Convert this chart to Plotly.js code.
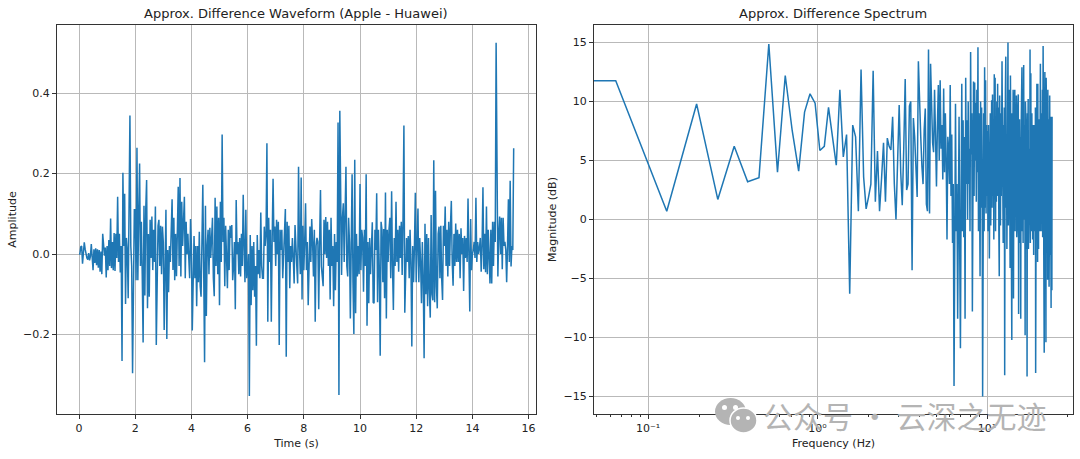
<!DOCTYPE html>
<html><head><meta charset="utf-8">
<script src="https://cdn.plot.ly/plotly-3.0.0.min.js"></script>
<style>html,body{margin:0;padding:0;background:#fff}#c{width:1080px;height:459px}</style>
</head><body><div id="c"></div>
<script>
const sampleStepS = 0.03125;
const amplitude = [
0,0,0.018,0.02,-0.024,0.005,0.029,0.012,-0.004,-0.01,-0.014,0.002,-0.016,-0.006,0.025,-0.012,
-0.04,0.012,-0.022,0.014,-0.028,0.012,-0.034,0.01,-0.044,0.006,-0.05,0.05,0.02,-0.004,0.016,-0.058,
0.02,-0.04,0.035,-0.03,0.088,-0.035,0.03,-0.04,0.052,-0.042,0.05,-0.01,0.142,-0.02,0.05,-0.046,
0.02,-0.266,0.202,0.02,0.15,-0.124,0.04,0.01,-0.11,0.08,0.344,0.02,-0.03,-0.296,0.03,0.11,
0.11,-0.065,0.264,-0.065,0.1,0.225,-0.03,0.08,-0.05,-0.22,0.12,-0.103,0.11,0.184,-0.135,0.05,
-0.106,0.085,-0.01,0.093,-0.04,0.06,-0.02,0.118,-0.226,0.03,0.07,0.085,-0.03,0.07,-0.05,0.068,
0.03,-0.189,0.04,0.11,-0.211,0.01,-0.095,0.02,-0.02,0.06,0.136,-0.04,0.09,-0.065,0.05,-0.055,
0.06,0.167,-0.03,0.189,-0.056,0.13,0.02,0.09,0.142,-0.06,0.08,0.0,0.05,-0.01,-0.06,0.087,
0.02,-0.19,-0.02,0.045,-0.06,0.02,-0.13,0.02,-0.07,0.055,-0.08,-0.106,0.03,0.172,-0.04,-0.269,
0.12,-0.154,0.02,0.06,-0.05,0.065,-0.01,0.05,0.09,-0.06,-0.105,0.14,-0.03,0.118,-0.05,0.09,
-0.127,0.13,-0.02,0.297,0.03,0.09,-0.08,0.07,-0.03,-0.085,0.06,-0.04,0.07,0.04,0.072,-0.065,
-0.03,0.03,-0.137,0.134,0.0,0.03,-0.05,0.04,-0.056,0.05,-0.03,0.147,0.02,-0.07,0.11,-0.06,
-0.04,0.0,-0.353,0.047,-0.127,0.02,-0.09,0.03,-0.106,-0.03,-0.228,0.047,-0.05,0.01,-0.06,0.103,
-0.03,-0.06,-0.06,0.068,0.02,0.05,0.275,-0.168,0.09,-0.02,0.06,-0.168,0.04,0.187,0.03,0.068,
-0.03,0.085,0.0,0.08,-0.226,0.06,0.01,0.06,-0.06,0.02,0.04,0.112,-0.255,0.08,-0.02,0.07,
-0.085,0.02,-0.02,0.04,-0.01,-0.073,0.072,0.0,-0.03,-0.073,0.217,0.02,-0.05,0.19,-0.113,0.07,
-0.04,0.03,0.126,-0.04,0.03,-0.127,0.04,0.068,-0.02,0.087,0.03,-0.056,0.06,-0.168,0.02,0.04,
0.03,-0.137,0.03,0.159,-0.03,-0.05,-0.08,0.085,0.0,0.092,-0.01,0.08,-0.03,0.06,-0.113,0.09,
-0.03,0.02,-0.13,0.05,-0.09,0.03,-0.02,0.327,-0.35,0.356,0.05,-0.052,0.09,0.126,-0.02,0.11,
0.217,-0.03,-0.056,0.09,0.03,-0.16,0.09,0.198,-0.07,-0.199,0.234,-0.147,0.05,-0.056,0.02,-0.05,
0.174,-0.04,0.06,0.04,-0.094,0.06,-0.03,0.198,-0.178,0.03,-0.122,0.04,-0.05,0.03,0.079,-0.12,
-0.122,0.06,0.01,0.151,-0.12,0.06,-0.04,-0.253,0.08,0.06,-0.07,0.062,-0.11,0.153,-0.16,0.06,
-0.02,0.06,0.09,-0.06,0.156,-0.03,-0.139,0.04,-0.03,0.13,-0.02,0.06,-0.044,0.07,-0.01,0.08,
-0.052,0.09,0.319,-0.146,-0.03,0.04,-0.02,0.045,-0.06,0.06,-0.02,-0.23,0.02,-0.07,0.02,0.152,
-0.07,0.02,0.113,-0.07,0.04,-0.02,-0.122,0.03,-0.06,-0.259,0.075,-0.1,0.05,-0.13,0.04,-0.09,
-0.158,0.097,-0.1,-0.115,0.233,-0.12,0.157,-0.08,-0.135,0.05,0.068,-0.06,0.07,-0.06,-0.114,0.07,
0.02,0.118,-0.03,0.06,-0.056,0.08,-0.03,0.07,0.132,-0.02,-0.079,0.05,-0.03,0.076,-0.02,0.06,
-0.02,0.05,-0.06,0.064,0.0,0.04,-0.092,0.045,-0.01,0.04,-0.02,0.138,-0.02,-0.143,0.087,-0.04,
0.0,0.01,0.03,-0.01,0.14,-0.02,0.03,0.0,0.015,0.04,-0.044,0.02,0.166,-0.038,0.05,-0.045,
0.118,-0.05,0.06,-0.02,-0.073,0.06,-0.073,0.08,-0.03,0.08,0.03,0.525,0.03,-0.056,0.05,0.093,
0.0,0.09,-0.038,0.09,0.02,0.03,0.01,-0.07,0.02,0.136,-0.02,0.182,-0.031,0.02,0.01,0.263
];
const timeS = amplitude.map((_, i) => i * sampleStepS);

const binHz = 0.0645;
const zeroBinPlotHz = 0.03;
const magnitudeDb = [
11.75,11.75,0.7,9.79,1.7,6.2,3.2,3.55,14.87,4.0,
12.2,7.5,4.1,9.1,10.65,9.85,5.85,6.2,9.5,7.0,
4.6,11.0,5.3,7.2,-6.3,8.0,7.0,0.7,12.7,3.6,
0.9,1.9,3.0,12.6,1.5,5.8,0.7,3.5,6.5,1.5,
6.9,6.2,5.9,8.7,3.0,0,4.5,9.7,4,1.2,
6,11.9,2.5,3.0,9.6,10,-4.3,8.6,7,3.5,
1.9,13.4,9,7,4.5,3,7.6,9.4,1.3,0.7,
14.4,0.5,13.2,8,6.5,5.7,11,7,2.8,8,
11.4,5,11.8,6,8,3.4,11.1,4,9,5,
-1.7,7,6,3,11.4,2,7.2,-2,3,-14.1,
7.2,9.8,-1,3,-8.4,2,8.7,-3,-10.9,2,
11.5,-1,8.4,-1.5,7,-8.4,12,3,8.4,0,
10,3,6,-1,14.2,5.5,9,-7.8,5,11.7,
2,11.6,5,9.9,1.5,11,4,14.6,-1,9,
3,-4.8,10,1,9.5,3,-15,2,9,-1,
12.9,1,11.8,0.5,8,2,7.5,-1,8,3,
-3.3,6,9,-0.5,5,10.1,1,10.6,2,8,
-1.7,12.3,3,12,-1,8,1.5,10,2,11.5,
3,9.5,-1,-4.8,10.5,4,-0.5,9,2,7,
13.4,1,7,-2,8,3.5,9.5,-13.2,4,11,
13.8,1,7,-2.5,9,2,15,-0.5,9,3,
11,4,-4.1,12.2,1,8,2,-10.2,9,3,
6,11,-6.7,5,9.5,1,11,-1,8,2,
6,10.5,-1.5,7,0,9,3,10.6,-8,6,
1,8.5,-2,7,3,-8.4,6,9,1,12.9,
-1,9,4,-2,10,13.1,2,8,0,7,
-9.8,10,3,8,-2.5,7,1,-13.3,9,2,
6,10.2,-2.5,8,1,6,12,2,14.4,-2,
8,12.4,1,7,-1,9,3,6.5,-1.7,8,
2,5,-3,8,1,7,-1,6,2,9.5,
-13,8,2,6,-1.5,11.5,1,7,-3.6,11.5,
0,6,-2.5,7,3,8.5,0,6,-1,9,
13.2,2,7,-1,5,9,0,6,2,11,
-1.5,8,14.7,1,7,-3,5,-11.3,9,2,
12.5,-2,6,0,8,-10.4,12,2,-2,7,
10.5,-1,5,-5.1,11,2,7,-3,8.5,-1,
-5.7,8,1,10.5,-2,7,-3,8.7,-1,6,
-7.5,8.7,-4,8.5,-6,8.7
];
const freqHz = magnitudeDb.map((_, k) => k === 0 ? zeroBinPlotHz : k * binHz);

const waveTicks = [0,2,4,6,8,10,12,14,16];
const ampTicks = [-0.2,0,0.2,0.4];
const dbTicks = [-15,-10,-5,0,5,10,15];
const freqTicks = [0.1,1,10];
const freqTickText = ['10⁻¹','10⁰','10¹'];
const freqMinor = [0.05,0.06,0.07,0.08,0.09,0.2,0.3,0.4,0.5,0.6,0.7,0.8,0.9,2,3,4,5,6,7,8,9,20,30];

const W = 1080, H = 459, px = v => v / W, py = v => 1 - v / H;
const FONT = 'DejaVu Sans, sans-serif';
const axisBase = {
  showline: true, mirror: true, linecolor: '#333', linewidth: 1,
  showgrid: true, gridcolor: '#b9b9b9', gridwidth: 1, zeroline: false,
  ticks: 'outside', ticklen: 4, tickwidth: 1, tickcolor: '#333',
  tickfont: {family: FONT, size: 11, color: '#222'}
};
const blue = '#1f77b4';
const wmark = '#b4b4b4';

const circle = (x0, y0, x1, y1, fill, line) => ({
  type: 'circle', xref: 'paper', yref: 'paper', layer: 'above',
  x0: px(x0), x1: px(x1), y0: py(y1), y1: py(y0),
  fillcolor: fill, line: line ? {color: line, width: 1.5} : {width: 0}
});

Plotly.newPlot('c', [
  {type: 'scatter', mode: 'lines', x: timeS, y: amplitude, xaxis: 'x', yaxis: 'y',
   line: {color: blue, width: 1.5}, hoverinfo: 'skip'},
  {type: 'scatter', mode: 'lines', x: freqHz, y: magnitudeDb, xaxis: 'x2', yaxis: 'y2',
   line: {color: blue, width: 1.5}, hoverinfo: 'skip'}
], {
  width: W, height: H, showlegend: false, paper_bgcolor: '#fff', plot_bgcolor: '#fff',
  margin: {l: 0, r: 0, t: 0, b: 0},
  font: {family: FONT, size: 11, color: '#222'},
  xaxis: {...axisBase, domain: [px(57), px(536)], range: [-0.783, 16.263],
          tickmode: 'array', tickvals: waveTicks, ticktext: waveTicks.map(String),
          title: {text: 'Time (s)', font: {family: FONT, size: 11, color: '#222'}, standoff: 5}, anchor: 'y'},
  yaxis: {...axisBase, domain: [py(414), py(25)], range: [-0.3975, 0.569],
          tickmode: 'array', tickvals: ampTicks, tickformat: '.1f',
          title: {text: 'Amplitude', font: {family: FONT, size: 11, color: '#222'}, standoff: 4}, anchor: 'x'},
  xaxis2: {...axisBase, domain: [px(594), px(1073)], type: 'log', range: [-1.3186, 1.507],
          tickmode: 'array', tickvals: freqTicks, ticktext: freqTickText,
          minor: {ticks: 'outside', ticklen: 2, tickcolor: '#333', tickmode: 'array', tickvals: freqMinor, showgrid: false},
          title: {text: 'Frequency (Hz)', font: {family: FONT, size: 11, color: '#222'}, standoff: 5}, anchor: 'y2'},
  yaxis2: {...axisBase, domain: [py(414), py(25)], range: [-16.48, 16.48],
          tickmode: 'array', tickvals: dbTicks,
          title: {text: 'Magnitude (dB)', font: {family: FONT, size: 11, color: '#222'}, standoff: 4}, anchor: 'x2'},
  annotations: [
    {text: 'Approx. Difference Waveform (Apple - Huawei)', xref: 'paper', yref: 'paper', x: px(296), y: py(14),
     showarrow: false, xanchor: 'center', yanchor: 'middle', font: {family: FONT, size: 13, color: '#222'}},
    {text: 'Approx. Difference Spectrum', xref: 'paper', yref: 'paper', x: px(833), y: py(14),
     showarrow: false, xanchor: 'center', yanchor: 'middle', font: {family: FONT, size: 13, color: '#222'}},
    {text: '公众号 · 云深之无迹', xref: 'paper', yref: 'paper', x: px(905), y: py(415),
     showarrow: false, xanchor: 'center', yanchor: 'middle', font: {family: 'Noto Sans CJK SC', size: 30, color: wmark}}
  ],
  shapes: [
    circle(715, 398, 746, 425, wmark),
    circle(730, 408, 757, 433, wmark, '#fff'),
    circle(722, 405, 727, 410, '#fff'),
    circle(733, 405, 738, 410, '#fff'),
    circle(736, 416, 740, 420, '#fff'),
    circle(746, 416, 750, 420, '#fff')
  ]
}, {displayModeBar: false, staticPlot: true});
</script></body></html>
